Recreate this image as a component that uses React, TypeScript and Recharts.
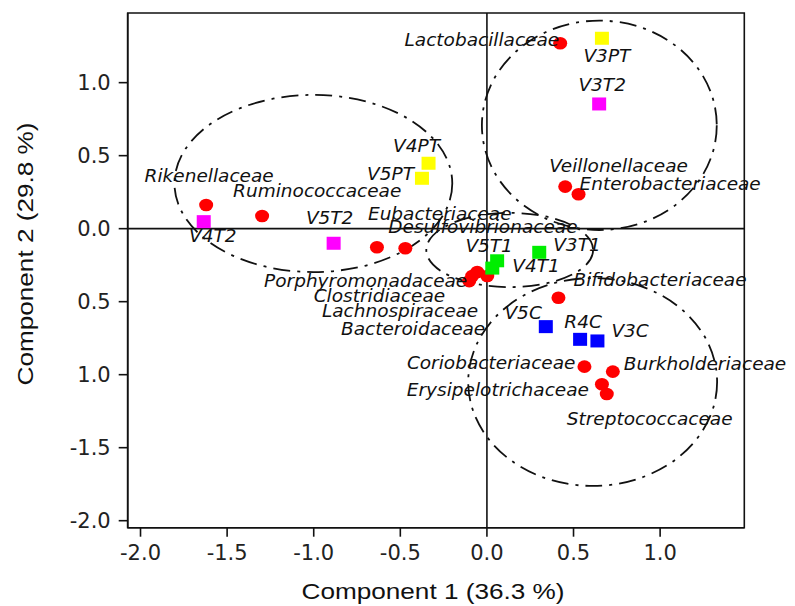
import React from 'react';
import { ScatterChart, Scatter, XAxis, YAxis, ReferenceLine, ReferenceArea, Label } from 'recharts';

// ---- data ----
const familyNames = [
  'Lactobacillaceae', 'Veillonellaceae', 'Enterobacteriaceae', 'Rikenellaceae',
  'Ruminococcaceae', 'Eubacteriaceae', 'Desulfovibrionaceae', 'Porphyromonadaceae',
  'Clostridiaceae', 'Lachnospiraceae', 'Bacteroidaceae', 'Bifidobacteriaceae',
  'Coriobacteriaceae', 'Burkholderiaceae', 'Erysipelotrichaceae', 'Streptococcaceae',
];
const familyPc1 = [0.423, 0.452, 0.529, -1.621, -1.298, -0.635, -0.471, -0.102, -0.085, -0.056, 0.002, 0.413, 0.563, 0.727, 0.664, 0.692];
const familyPc2 = [1.27, 0.288, 0.236, 0.162, 0.087, -0.127, -0.134, -0.359, -0.324, -0.297, -0.324, -0.473, -0.945, -0.979, -1.066, -1.132];

const sampleNames = ['V3PT', 'V4PT', 'V5PT', 'V3T2', 'V4T2', 'V5T2', 'V3T1', 'V4T1', 'V5T1', 'V3C', 'R4C', 'V5C'];
const samplePc1 = [0.664, -0.337, -0.375, 0.648, -1.635, -0.885, 0.302, 0.031, 0.059, 0.638, 0.538, 0.34];
const samplePc2 = [1.304, 0.448, 0.345, 0.854, 0.048, -0.1, -0.162, -0.27, -0.22, -0.769, -0.758, -0.671];
const sampleGroups = ['PT', 'PT', 'PT', 'T2', 'T2', 'T2', 'T1', 'T1', 'T1', 'C', 'C', 'C'];

// confidence ellipses (bounding boxes in component units)
const ellipseX1 = [-1.804, -0.029, -0.35, -0.108];
const ellipseX2 = [-0.2, 1.327, 0.613, 1.329];
const ellipseY1 = [0.916, 1.425, 0.108, -0.338];
const ellipseY2 = [-0.297, -0.009, -0.4, -1.762];

const xTicks = [-2.0, -1.5, -1.0, -0.5, 0.0, 0.5, 1.0];
const xTickLabels = ['-2.0', '-1.5', '-1.0', '-0.5', '0.0', '0.5', '1.0'];
const yTicks = [1.0, 0.5, 0.0, -0.5, -1.0, -1.5, -2.0];
const yTickLabels = ['1.0', '0.5', '0.0', '0.5', '1.0', '-1.5', '-2.0'];

const xDomain = [-2.074, 1.486];
const yDomain = [-2.048, 1.477];

const xTitle = 'Component 1 (36.3 %)';
const yTitle = 'Component 2 (29.8 %)';

// ---- styling ----
const groupColors: Record<string, string> = {
  PT: '#ffff00',
  T2: '#ff00ff',
  T1: '#00ee00',
  C: '#0000ff',
};

type LabelPos = [string, number, number];
const labelLayout: Record<string, LabelPos> = {
  Lactobacillaceae: ['end', -1, 3],
  Veillonellaceae: ['start', -16, -15],
  Enterobacteriaceae: ['start', 1, -4],
  Rikenellaceae: ['middle', 3, -23],
  Ruminococcaceae: ['start', -29, -19],
  Eubacteriaceae: ['start', -9, -27],
  Desulfovibrionaceae: ['start', -17, -15],
  Porphyromonadaceae: ['end', -2, 6],
  Clostridiaceae: ['end', -27, 26],
  Lachnospiraceae: ['end', 1, 45],
  Bacteroidaceae: ['end', -2, 59],
  Bifidobacteriaceae: ['start', 15, -12],
  Coriobacteriaceae: ['end', -9, 2],
  Burkholderiaceae: ['start', 11, -2],
  Erysipelotrichaceae: ['end', -13, 12],
  Streptococcaceae: ['start', -40, 31],
  V3PT: ['middle', 5, 24],
  V4PT: ['middle', -12, -11],
  V5PT: ['end', -8, 2],
  V3T2: ['middle', 3, -13],
  V4T2: ['middle', 9, 20],
  V5T2: ['middle', -4, -19],
  V3T1: ['start', 14, -1],
  V4T1: ['start', 20, 4],
  V5T1: ['middle', -8, -9],
  V3C: ['start', 14, -4],
  R4C: ['middle', 3, -11],
  V5C: ['end', -4, -8],
};

const labelFont = "'DejaVu Sans', Verdana, sans-serif";

const familyData = familyNames.map((name, i) => ({ name, x: familyPc1[i], y: familyPc2[i] }));
const sampleData = sampleNames.map((name, i) => ({ name, x: samplePc1[i], y: samplePc2[i], group: sampleGroups[i] }));

const PointLabel = ({ cx, cy, name }: { cx: number; cy: number; name: string }) => {
  const l = labelLayout[name] || ['start', 8, -8];
  return (
    <text
      x={cx + l[1]}
      y={cy + l[2]}
      textAnchor={l[0] as any}
      fontFamily={labelFont}
      fontStyle="italic"
      fontSize={18.5}
      fill="#111"
    >
      {name}
    </text>
  );
};

const CircleShape = (props: any) => {
  const { cx, cy, payload } = props;
  return (
    <g>
      <ellipse cx={cx} cy={cy} rx={7} ry={6.3} fill="#ff0000" />
      <PointLabel cx={cx} cy={cy} name={payload.name} />
    </g>
  );
};

const SquareShape = (props: any) => {
  const { cx, cy, payload } = props;
  return (
    <g>
      <rect x={cx - 7} y={cy - 6.5} width={14} height={13} fill={groupColors[payload.group]} />
      <PointLabel cx={cx} cy={cy} name={payload.name} />
    </g>
  );
};

const EllipseShape = (props: any) => {
  const { x, y, width, height } = props;
  return (
    <ellipse
      cx={x + width / 2}
      cy={y + height / 2}
      rx={Math.abs(width) / 2}
      ry={Math.abs(height) / 2}
      fill="none"
      stroke="#111"
      strokeWidth={1.8}
      strokeDasharray="17 7 3 7"
    />
  );
};

const XTitle = (props: any) => {
  const vb = props.viewBox;
  return (
    <text
      x={vb.x + vb.width / 2 - 3}
      y={vb.y + 71}
      textAnchor="middle"
      fontFamily="'Liberation Sans', Arial, sans-serif"
      fontSize={22}
      fill="#111"
      textLength={263}
      lengthAdjust="spacingAndGlyphs"
    >
      {xTitle}
    </text>
  );
};

const YTitle = (props: any) => {
  const vb = props.viewBox;
  const cx = 25;
  const cy = vb.y + 241;
  return (
    <text
      x={cx}
      y={cy}
      transform={`rotate(-90, ${cx}, ${cy})`}
      textAnchor="middle"
      fontFamily="'Liberation Sans', Arial, sans-serif"
      fontSize={22}
      fill="#111"
      textLength={263}
      lengthAdjust="spacingAndGlyphs"
    >
      {yTitle}
    </text>
  );
};

const tickStyle = { fontFamily: "'DejaVu Sans', Verdana, sans-serif", fontSize: 21, fill: '#222' };

export default function App() {
  return (
    <ScatterChart width={787} height={598} margin={{ top: 5, right: 50.7, left: 0, bottom: 0 }}>
      <XAxis
        type="number"
        dataKey="x"
        domain={xDomain}
        ticks={xTicks}
        interval={0}
        tickSize={9}
        tickMargin={8}
        height={78.3}
        tick={tickStyle}
        tickFormatter={(v: number) => xTickLabels[xTicks.indexOf(v)] ?? String(v)}
        axisLine={{ stroke: '#111', strokeWidth: 1.6 }}
        tickLine={{ stroke: '#111', strokeWidth: 1.6 }}
      >
        <Label content={XTitle} />
      </XAxis>
      <YAxis
        type="number"
        dataKey="y"
        domain={yDomain}
        ticks={yTicks}
        interval={0}
        tickSize={9}
        tickMargin={8}
        width={119.7}
        tick={tickStyle}
        tickFormatter={(v: number) => yTickLabels[yTicks.indexOf(v)] ?? String(v)}
        axisLine={{ stroke: '#111', strokeWidth: 1.6 }}
        tickLine={{ stroke: '#111', strokeWidth: 1.6 }}
      >
        <Label content={YTitle} />
      </YAxis>
      <ReferenceArea
        x1={xDomain[0]}
        x2={xDomain[1]}
        y1={yDomain[0]}
        y2={yDomain[1]}
        fill="none"
        fillOpacity={0}
        stroke="#111"
        strokeWidth={1.6}
        ifOverflow="visible"
      />
      <ReferenceLine x={0} stroke="#111" strokeWidth={1.6} />
      <ReferenceLine y={0} stroke="#111" strokeWidth={1.6} />
      {ellipseX1.map((x1, i) => (
        <ReferenceArea
          key={`ell-${i}`}
          x1={x1}
          x2={ellipseX2[i]}
          y1={ellipseY2[i]}
          y2={ellipseY1[i]}
          ifOverflow="visible"
          shape={EllipseShape}
        />
      ))}
      <Scatter data={familyData} isAnimationActive={false} shape={CircleShape} />
      <Scatter data={sampleData} isAnimationActive={false} shape={SquareShape} />
    </ScatterChart>
  );
}
